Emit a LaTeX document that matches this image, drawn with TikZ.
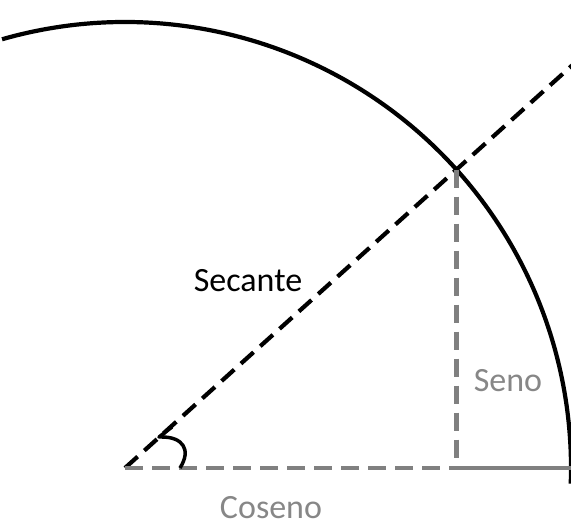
\documentclass[tikz,border=0pt]{standalone}
\usepackage{fontspec}
\setmainfont{Carlito}
\usetikzlibrary{calc}
\definecolor{legray}{RGB}{128,128,128}
\definecolor{txtgray}{RGB}{135,135,135}
\tikzset{
    circ/.style={line width=4.2pt},
    secline/.style={line width=4.2pt, dash pattern=on 17pt off 9pt},
    legline/.style={line width=4.2pt, legray, dash pattern=on 18pt off 9pt},
    lbl/.style={font=\fontsize{34}{40}\selectfont}
}
\begin{document}
\begin{tikzpicture}[x=1pt,y=1pt]
\useasboundingbox (0,0) rectangle (571,529);
\clip (0,0) rectangle (571,529);

\coordinate (O) at (125,61);
\coordinate (P) at ($(O)+(42:446)$);
\coordinate (F) at (O -| P);
\coordinate (E) at (590,61);
\coordinate (S) at ($(O)+(42:700)$);

% circle
\draw[circ] (O) ++(106:446) arc (106:-2:446);

% secant
\draw[secline] (O) -- (S);

% sine and cosine
\draw[legline] (P) -- (F);
\draw[legline] (O) -- (F);
\draw[line width=4.2pt, legray] (F) -- (E);

% angle
\coordinate (A0) at (180,61);
\coordinate (A1) at (162,92);
\draw[line width=3.5pt, line join=round] (A0) .. controls (192,80) and (182,92) .. (A1)
    -- ++(-3,0) -- ++(13,10);

\node[lbl] (sec) at (248,248) {Secante};
\node[lbl, text=txtgray] (sen) at (508,148) {Seno};
\node[lbl, text=txtgray] (cos) at (271,21) {Coseno};
\end{tikzpicture}
\end{document}
